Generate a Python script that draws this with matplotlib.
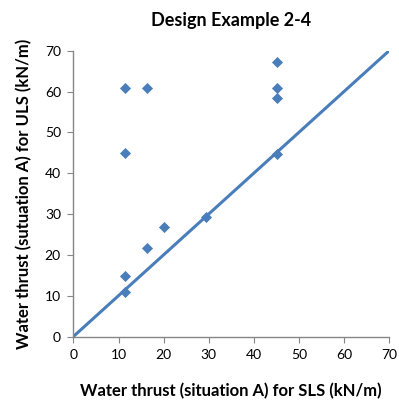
import matplotlib
matplotlib.use("Agg")
import matplotlib.pyplot as plt

plt.rcParams['font.family'] = ['Lato', 'DejaVu Sans']

# data
sls = [11.4, 16.3, 11.4, 11.4, 11.4, 16.3, 20.1, 29.4, 45.1, 45.1, 45.1, 45.1]
uls = [60.8, 60.8, 44.9, 14.9, 11.0, 21.7, 26.8, 29.2, 67.3, 61.0, 58.5, 44.8]
line_x = [0, 70]
line_y = [0, 70]

blue = '#4a7ebb'
grey = '#868686'

fig = plt.figure(figsize=(3.99, 4.03), dpi=100)
ax = fig.add_axes([0.184, 0.165, 0.791, 0.709])

ax.plot(line_x, line_y, color=blue, linewidth=2.2, solid_capstyle='butt')
ax.scatter(sls, uls, marker='D', s=32, color=blue, zorder=3, linewidths=0)

ax.set_xlim(0, 70)
ax.set_ylim(0, 70)
ax.set_xticks(range(0, 71, 10))
ax.set_yticks(range(0, 71, 10))

for side in ['top', 'right']:
    ax.spines[side].set_visible(False)
for side in ['left', 'bottom']:
    ax.spines[side].set_color(grey)
    ax.spines[side].set_linewidth(1.0)
ax.tick_params(direction='out', length=4, color=grey, labelsize=10, pad=5)

ax.set_title("Design Example 2-4", fontsize=13, fontweight='bold', pad=18)
ax.set_xlabel("Water thrust (situation A) for SLS (kN/m)", fontsize=12,
              fontweight='bold', labelpad=16)
ax.set_ylabel("Water thrust (sutuation A) for ULS (kN/m)", fontsize=12,
              fontweight='bold', labelpad=9)

fig.savefig("out.png", dpi=100)
